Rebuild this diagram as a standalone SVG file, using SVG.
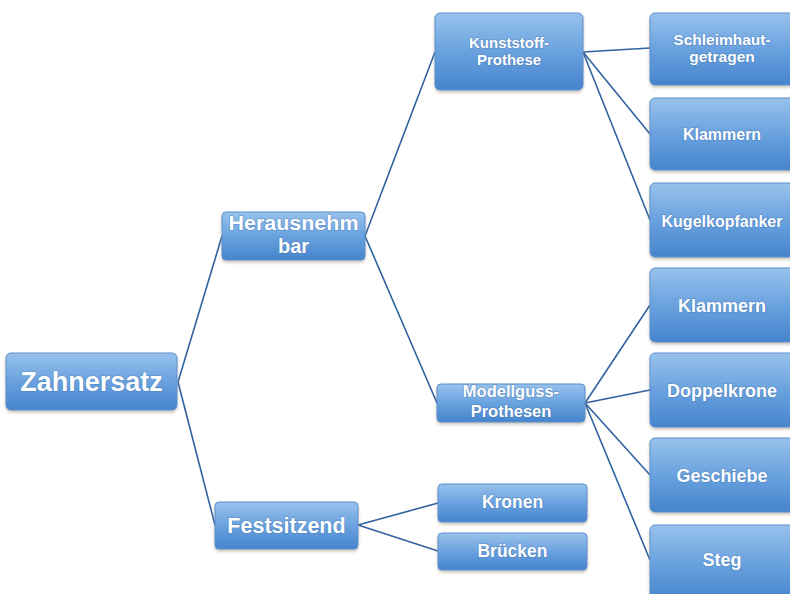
<svg xmlns="http://www.w3.org/2000/svg" width="790" height="594" viewBox="0 0 790 594">
<defs>
<linearGradient id="g" x1="0" y1="0" x2="0" y2="1">
<stop offset="0" stop-color="#98c2ec"/>
<stop offset="0.5" stop-color="#6aa2df"/>
<stop offset="1" stop-color="#4684cd"/>
</linearGradient>
<filter id="sh" x="-10%" y="-10%" width="120%" height="130%">
<feDropShadow dx="0" dy="2" stdDeviation="1.5" flood-color="#8a7a60" flood-opacity="0.45"/>
</filter>
</defs>
<style>
.box{fill:url(#g);stroke:#5a90cc;stroke-width:1;filter:url(#sh)}
.t{font-family:"Liberation Sans",Arial,sans-serif;font-weight:bold;fill:#ffffff;text-anchor:middle;stroke:#3d70aa;stroke-width:1.2;stroke-opacity:0.55;paint-order:stroke}
.c{fill:none;stroke:#2f62a0;stroke-width:1.6}
</style>
<rect width="790" height="594" fill="#ffffff"/>
<g id="connectors">
<path class="c" d="M178,382 L222,236"/>
<path class="c" d="M178,382 L215,525"/>
<path class="c" d="M365,236 L435,52"/>
<path class="c" d="M365,236 L437,403"/>
<path class="c" d="M583,52 L650,48"/>
<path class="c" d="M583,52 L650,134"/>
<path class="c" d="M583,52 L650,220"/>
<path class="c" d="M585,403 L650,305"/>
<path class="c" d="M585,403 L650,390"/>
<path class="c" d="M585,403 L650,475"/>
<path class="c" d="M585,403 L650,560"/>
<path class="c" d="M358,525 L438,503"/>
<path class="c" d="M358,525 L438,551"/>
</g>
<g id="zahnersatz"><rect class="box" x="6" y="353" width="171" height="57" rx="5"/><text class="t" x="91.5" y="391" font-size="27">Zahnersatz</text></g>
<g id="herausnehmbar"><rect class="box" x="222" y="212" width="143" height="48" rx="4"/><text class="t" x="293.5" y="230" font-size="20" textLength="130" lengthAdjust="spacingAndGlyphs">Herausnehm</text><text class="t" x="293.5" y="253" font-size="20">bar</text></g>
<g id="festsitzend"><rect class="box" x="215" y="502" width="143" height="47" rx="4"/><text class="t" x="286.5" y="533" font-size="21.5">Festsitzend</text></g>
<g id="kunststoff"><rect class="box" x="435" y="13" width="148" height="77" rx="5"/><text class="t" x="509" y="48" font-size="15">Kunststoff-</text><text class="t" x="509" y="65" font-size="15">Prothese</text></g>
<g id="modellguss"><rect class="box" x="437" y="384" width="148" height="38" rx="4"/><text class="t" x="511" y="397" font-size="16.5">Modellguss-</text><text class="t" x="511" y="417" font-size="16.5">Prothesen</text></g>
<g id="kronen"><rect class="box" x="438" y="484" width="149" height="38" rx="4"/><text class="t" x="512.5" y="508" font-size="17.5">Kronen</text></g>
<g id="bruecken"><rect class="box" x="438" y="533" width="149" height="37" rx="4"/><text class="t" x="512.5" y="557" font-size="17.5">Brücken</text></g>
<g id="schleimhaut"><rect class="box" x="650" y="13" width="146" height="72" rx="5"/><text class="t" x="722" y="45" font-size="15.5">Schleimhaut-</text><text class="t" x="722" y="62" font-size="15.5">getragen</text></g>
<g id="klammern1"><rect class="box" x="650" y="98" width="146" height="72" rx="5"/><text class="t" x="722" y="140" font-size="16">Klammern</text></g>
<g id="kugelkopfanker"><rect class="box" x="650" y="183" width="146" height="74" rx="5"/><text class="t" x="722" y="227" font-size="16">Kugelkopfanker</text></g>
<g id="klammern2"><rect class="box" x="650" y="268" width="146" height="74" rx="5"/><text class="t" x="722" y="312" font-size="18">Klammern</text></g>
<g id="doppelkrone"><rect class="box" x="650" y="353" width="146" height="74" rx="5"/><text class="t" x="722" y="397" font-size="18">Doppelkrone</text></g>
<g id="geschiebe"><rect class="box" x="650" y="438" width="146" height="74" rx="5"/><text class="t" x="722" y="482" font-size="18">Geschiebe</text></g>
<g id="steg"><rect class="box" x="650" y="525" width="146" height="76" rx="5"/><text class="t" x="722" y="566" font-size="18">Steg</text></g>
</svg>
